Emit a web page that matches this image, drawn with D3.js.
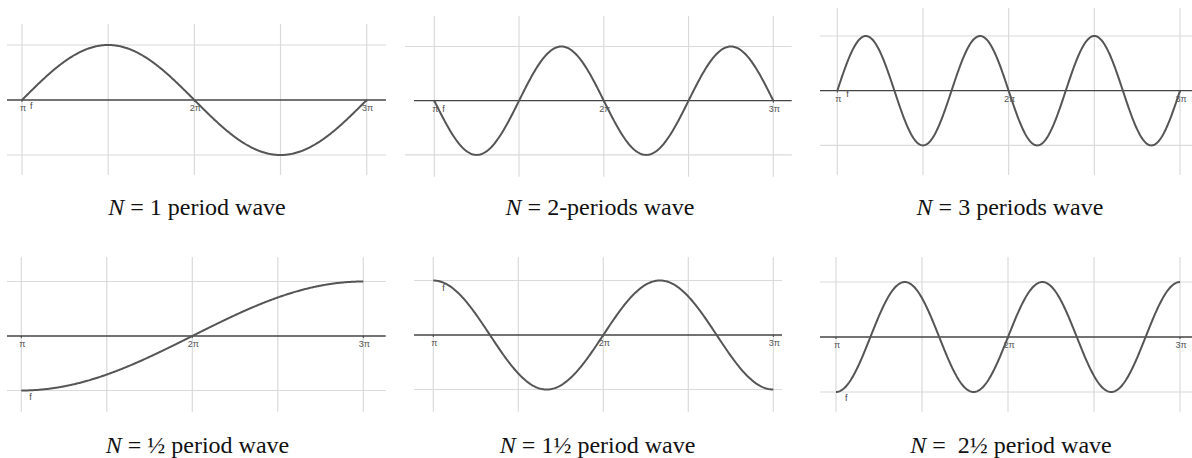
<!DOCTYPE html>
<html>
<head>
<meta charset="utf-8">
<script src="https://cdn.jsdelivr.net/npm/d3@7"></script>
<style>
  html, body { margin: 0; padding: 0; background: #fff; }
  svg { display: block; }
  .caption { font-family: "Liberation Serif", "Times New Roman", Times, serif; font-size: 24px; fill: #111; white-space: pre; }
  .tick-label { font-family: "Liberation Sans", Arial, sans-serif; font-size: 9px; fill: #555; }
  .fn-label { font-family: "Liberation Sans", Arial, sans-serif; font-size: 9px; fill: #444; }
</style>
</head>
<body>
<svg id="chart" width="1192" height="458"></svg>
<script>
// Wave captions, one per panel (row by row)
const captions = [
  ["N", " = 1 period wave"],
  ["N", " = 2-periods wave"],
  ["N", " = 3 periods wave"],
  ["N", " = ½ period wave"],
  ["N", " = 1½ period wave"],
  ["N", " =  2½ period wave"]
];
// Number of periods across the interval [π, 3π]
const periods = [1, 2, 3, 0.5, 1.5, 2.5];
// Where each wave starts at x = π: rising zero, falling zero, minimum or maximum
const startPhase = ["rise", "fall", "rise", "min", "max", "min"];
// Axis tick labels and their x values (in units of π)
const tickLabels = ["π", "2π", "3π"];
const tickValues = [1, 2, 3];
// Grid step along x, in units of π
const gridStep = 0.5;

const phaseOffset = { rise: 0, fall: Math.PI, min: -Math.PI / 2, max: Math.PI / 2 };

// Panel frames: plot range, zero line, amplitude and grid extents
const frames = [
  { x0: 22,    x1: 366.7, y0: 100,   amp: 55,   gx: [7, 386],     ax: [7, 386],     gy: [24, 175],   fl: [8, 6],   cx: 197,   cy: 215 },
  { x0: 434.3, x1: 773.3, y0: 100.7, amp: 54.2, gx: [405, 791.7], ax: [414, 791.7], gy: [16, 176.7], fl: [8, 8],   cx: 600,   cy: 215 },
  { x0: 837.3, x1: 1180,  y0: 90.7,  amp: 54.7, gx: [820, 1192],  ax: [820, 1192],  gy: [8, 175],    fl: [9, 3.5], cx: 1010,  cy: 215 },
  { x0: 21.3,  x1: 363.3, y0: 336,   amp: 54.5, gx: [7, 385.7],   ax: [7, 385.7],   gy: [257, 411.7], fl: [8, 60.5], cx: 197.5, cy: 453 },
  { x0: 433.3, x1: 773.3, y0: 335,   amp: 54.5, gx: [414, 782],   ax: [414, 782],   gy: [257, 411.7], fl: [9, -47], cx: 597.6, cy: 453 },
  { x0: 836,   x1: 1180,  y0: 337,   amp: 55,   gx: [820, 1192],  ax: [820, 1192],  gy: [257, 411.7], fl: [9, 61], cx: 1011,  cy: 453 }
];

const svg = d3.select("#chart");

frames.forEach((fr, i) => {
  const x = d3.scaleLinear().domain([1, 3]).range([fr.x0, fr.x1]);
  const y = d3.scaleLinear().domain([-1, 1]).range([fr.y0 + fr.amp, fr.y0 - fr.amp]);
  const g = svg.append("g");

  // light grid
  const xGrid = d3.range(1, 3 + 1e-9, gridStep);
  g.selectAll(".vgrid").data(xGrid).join("line")
    .attr("x1", d => x(d)).attr("x2", d => x(d))
    .attr("y1", fr.gy[0]).attr("y2", fr.gy[1])
    .attr("stroke", "#dadada").attr("stroke-width", 1.2);
  g.selectAll(".hgrid").data([-1, 1]).join("line")
    .attr("x1", fr.gx[0]).attr("x2", fr.gx[1])
    .attr("y1", d => y(d)).attr("y2", d => y(d))
    .attr("stroke", "#dadada").attr("stroke-width", 1.2);

  // zero line with small ticks
  g.append("line")
    .attr("x1", fr.ax[0]).attr("x2", fr.ax[1])
    .attr("y1", y(0)).attr("y2", y(0))
    .attr("stroke", "#444").attr("stroke-width", 1.3);
  g.selectAll(".tk").data(tickValues).join("line")
    .attr("x1", d => x(d)).attr("x2", d => x(d))
    .attr("y1", y(0)).attr("y2", y(0) + 2)
    .attr("stroke", "#444").attr("stroke-width", 1);
  g.selectAll(".tick-label").data(tickValues).join("text")
    .attr("class", "tick-label")
    .attr("x", d => x(d) + 1)
    .attr("y", y(0) + 11)
    .attr("text-anchor", "middle")
    .text((d, k) => tickLabels[k]);

  // wave f over [π, 3π]
  const N = periods[i];
  const phi = phaseOffset[startPhase[i]];
  const samples = d3.range(0, 401).map(k => {
    const t = k / 400;
    return [1 + 2 * t, Math.sin(2 * Math.PI * N * t + phi)];
  });
  g.append("path")
    .datum(samples)
    .attr("fill", "none")
    .attr("stroke", "#555")
    .attr("stroke-width", 2)
    .attr("d", d3.line().x(d => x(d[0])).y(d => y(d[1])));

  g.append("text")
    .attr("class", "fn-label")
    .attr("x", x(1) + fr.fl[0])
    .attr("y", y(0) + fr.fl[1] + 3)
    .text("f");

  // caption
  const cap = svg.append("text")
    .attr("class", "caption")
    .attr("x", fr.cx).attr("y", fr.cy)
    .attr("text-anchor", "middle");
  cap.append("tspan").attr("font-style", "italic").text(captions[i][0]);
  cap.append("tspan").text(captions[i][1]);
});
</script>
</body>
</html>
